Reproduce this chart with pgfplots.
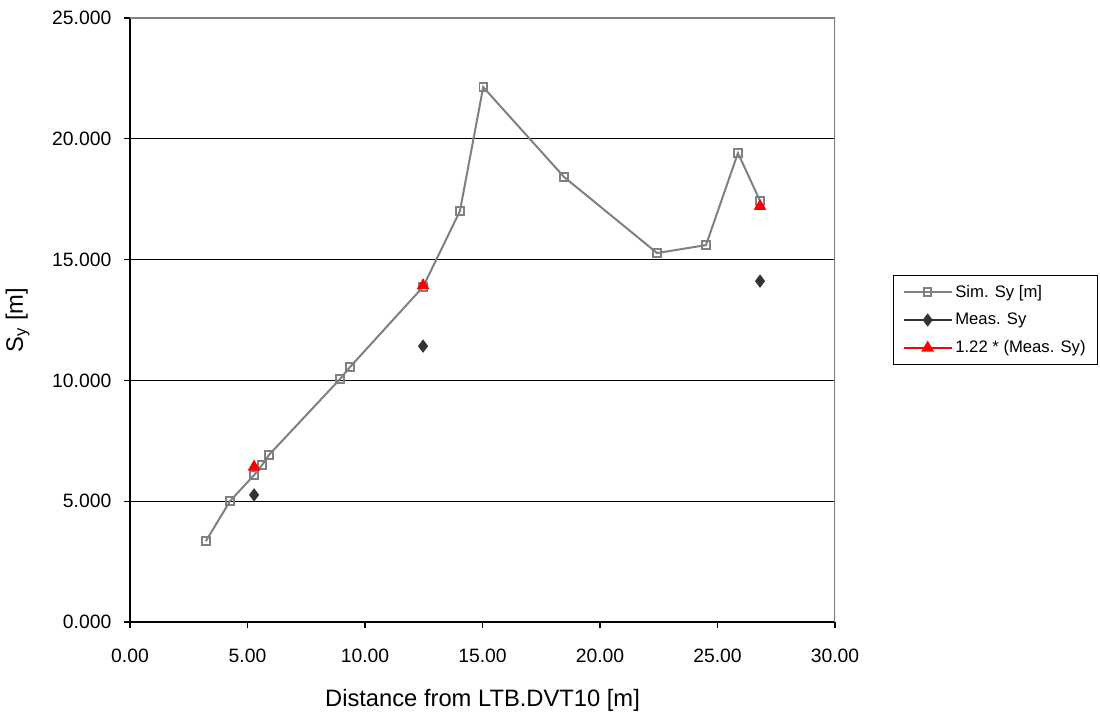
\documentclass[border=0pt]{standalone}
\usepackage{pgfplots}
\pgfplotsset{compat=1.18}
\usepackage{fontspec}
\setmainfont{Liberation Sans}

\definecolor{simgray}{RGB}{128,128,128}
\definecolor{measgray}{RGB}{51,51,51}

\begin{document}
\begin{tikzpicture}
% page = 1100x714 px at 0.75pt per px
\useasboundingbox (-97.5pt,-69pt) rectangle (727.5pt,466.5pt);
\begin{axis}[
  at={(0,0)}, anchor=south west,
  scale only axis,
  width=528.75pt, height=453pt,
  xmin=0, xmax=30, ymin=0, ymax=25,
  xtick={0,5,...,30}, ytick={0,5,...,25},
  axis x line*=bottom, axis y line*=left,
  axis line style={black, line width=0.8pt},
  tick align=outside, major tick length=4.5pt,
  tick style={black, line width=0.8pt},
  ymajorgrids, grid style={black, line width=0.75pt},
  ticklabel style={font=\fontsize{14.5}{16}\selectfont},
  x tick label style={yshift=-12pt, /pgf/number format/.cd, fixed, fixed zerofill, precision=2, assume math mode=true},
  y tick label style={xshift=-6pt, /pgf/number format/.cd, fixed, fixed zerofill, precision=3, assume math mode=true},
  xlabel={Distance from LTB.DVT10 [m]},
  ylabel={S\textsubscript{y} [m]},
  label style={font=\fontsize{17.8}{20}\selectfont},
  xlabel style={yshift=-13.5pt},
  ylabel style={yshift=10pt},
  legend style={at={(1.082,0.5)}, anchor=west, draw=black, line width=0.8pt,
    font=\fontsize{12.5}{14}\selectfont, row sep=6.5pt, inner xsep=7pt, inner ysep=5pt},
  legend cell align=left,
  legend image code/.code={\draw[mark repeat=2,mark phase=2,#1,sharp plot]
    plot coordinates {(0pt,0pt) (18pt,0pt) (36pt,0pt)};},
]
\addplot[simgray, line width=1.5pt, mark=square, mark size=2.8pt,
  mark options={fill=white, line width=1.4pt}] coordinates {
  (3.23,3.35) (4.26,5.01) (5.28,6.08) (5.62,6.50) (5.91,6.91)
  (8.94,10.06) (9.36,10.55) (12.47,13.87) (14.04,17.01) (15.03,22.14)
  (18.47,18.42) (22.43,15.27) (24.51,15.60) (25.87,19.41) (26.81,17.43)
};
\addlegendentry{Sim. Sy [m]}
\addplot[measgray, line width=1.5pt, only marks, mark=diamond*, mark size=3.8pt] coordinates {
  (5.28,5.26) (12.47,11.42) (26.81,14.11)
};
\addlegendentry{Meas. Sy}
\addplot[red, line width=1.5pt, only marks, mark=triangle*, mark size=4pt] coordinates {
  (5.28,6.42) (12.47,13.93) (26.81,17.21)
};
\addlegendentry{1.22 * (Meas. Sy)}
\draw[simgray, line width=0.8pt] (rel axis cs:0,1) -- (rel axis cs:1,1) -- (rel axis cs:1,0);
\end{axis}
\end{tikzpicture}
\end{document}
